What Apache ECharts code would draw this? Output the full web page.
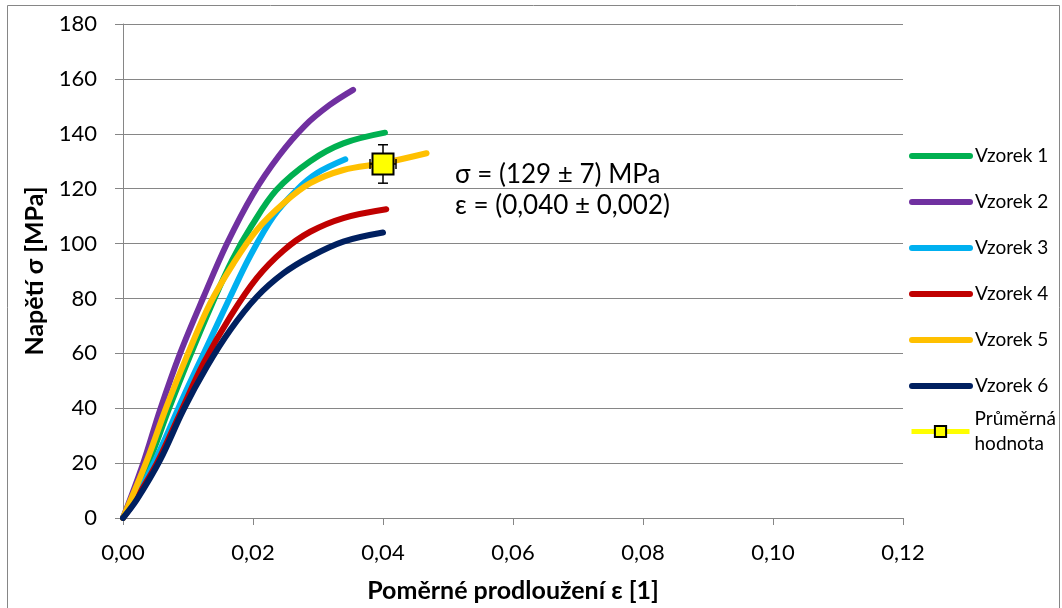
<!DOCTYPE html>
<html>
<head>
<meta charset="utf-8">
<script src="https://cdn.jsdelivr.net/npm/echarts@6/dist/echarts.min.js"></script>
<style>
  html, body { margin: 0; padding: 0; background: #fff; }
  #chart { width: 1062px; height: 608px; }
</style>
</head>
<body>
<div id="chart"></div>
<script>
// Vzorek 1..6: pomerne prodlouzeni (x) a napeti (y)
var v1x = [0, 0.0039, 0.0071, 0.0103, 0.0137, 0.0168, 0.0198, 0.0236, 0.0288, 0.0339, 0.0403];
var v1y = [0, 20, 40, 59, 78, 94, 106.5, 119.5, 130, 136.5, 140.4];
var v2x = [0, 0.0031, 0.0057, 0.0088, 0.0124, 0.0160, 0.0200, 0.0240, 0.0280, 0.0318, 0.0354];
var v2y = [0, 19.9, 39.4, 60.1, 80.6, 100, 118, 132, 143, 150.5, 156];
var v3x = [0, 0.0021, 0.0057, 0.0093, 0.0129, 0.0165, 0.0195, 0.0231, 0.0267, 0.0298, 0.0342];
var v3y = [0, 7.8, 24.8, 44.2, 62.4, 80.6, 95.2, 109.8, 119.5, 125.6, 130.7];
var v4x = [0, 0.0016, 0.0052, 0.0088, 0.0124, 0.0165, 0.0206, 0.0247, 0.0288, 0.0339, 0.0405];
var v4y = [0, 5.4, 19.9, 38.2, 56.4, 73.4, 87.5, 97.5, 104.3, 109.3, 112.5];
var v5x = [0, 0.0037, 0.0067, 0.0098, 0.0134, 0.0170, 0.0206, 0.0247, 0.0288, 0.0339, 0.0400, 0.0467];
var v5y = [0, 21.1, 40.6, 58.8, 78.2, 92.8, 105, 114.7, 122, 126.8, 129.3, 132.9];
var v6x = [0, 0.0021, 0.0057, 0.0093, 0.0129, 0.0165, 0.0206, 0.0247, 0.0288, 0.0339, 0.0400];
var v6y = [0, 6.6, 21.1, 39.4, 55.1, 68.5, 80.6, 89.2, 95.2, 100.7, 104];

// prumerna hodnota a smerodatne odchylky
var meanX = [0.040];
var meanY = [129];
var errX = [0.002];
var errY = [7];

var names = ['Vzorek 1', 'Vzorek 2', 'Vzorek 3', 'Vzorek 4', 'Vzorek 5', 'Vzorek 6'];
var colors = ['#00B050', '#7030A0', '#00B0F0', '#C00000', '#FFC000', '#002060'];
var xs = [v1x, v2x, v3x, v4x, v5x, v6x];
var ys = [v1y, v2y, v3y, v4y, v5y, v6y];
var meanName = 'Průměrná\nhodnota';

function pairs(a, b) {
  var out = [];
  for (var i = 0; i < a.length; i++) out.push([a[i], b[i]]);
  return out;
}

var series = [];
for (var i = 0; i < names.length; i++) {
  series.push({
    name: names[i],
    type: 'line',
    data: pairs(xs[i], ys[i]),
    smooth: 0.35,
    symbol: 'none',
    lineStyle: { color: colors[i], width: 6, cap: 'round', join: 'round' },
    itemStyle: { color: colors[i] },
    z: 2 + i
  });
}

// chybove useky
series.push({
  type: 'custom',
  z: 20,
  silent: true,
  data: meanX.map(function (x, k) { return [x, meanY[k], errX[k], errY[k]]; }),
  renderItem: function (params, api) {
    var x = api.value(0), y = api.value(1), ex = api.value(2), ey = api.value(3);
    var top = api.coord([x, y + ey]), bot = api.coord([x, y - ey]);
    var lft = api.coord([x - ex, y]), rgt = api.coord([x + ex, y]);
    var st = { stroke: '#000', lineWidth: 1.5 };
    var c = 5;
    return {
      type: 'group',
      children: [
        { type: 'line', shape: { x1: top[0], y1: top[1], x2: bot[0], y2: bot[1] }, style: st },
        { type: 'line', shape: { x1: top[0] - c, y1: top[1], x2: top[0] + c, y2: top[1] }, style: st },
        { type: 'line', shape: { x1: bot[0] - c, y1: bot[1], x2: bot[0] + c, y2: bot[1] }, style: st },
        { type: 'line', shape: { x1: lft[0], y1: lft[1], x2: rgt[0], y2: rgt[1] }, style: st },
        { type: 'line', shape: { x1: lft[0], y1: lft[1] - c, x2: lft[0], y2: lft[1] + c }, style: st },
        { type: 'line', shape: { x1: rgt[0], y1: rgt[1] - c, x2: rgt[0], y2: rgt[1] + c }, style: st }
      ]
    };
  }
});

series.push({
  name: meanName,
  type: 'line',
  data: pairs(meanX, meanY),
  symbol: 'rect',
  symbolSize: 21,
  showSymbol: true,
  z: 30,
  lineStyle: { color: '#FFFF00', width: 5 },
  itemStyle: { color: '#FFFF00', borderColor: '#000', borderWidth: 2 }
});

var font = 'Lato, "Open Sans", sans-serif';

var chart = echarts.init(document.getElementById('chart'));
chart.setOption({
  animation: false,
  textStyle: { fontFamily: font },
  grid: { left: 123, right: 159, top: 24, bottom: 90 },
  xAxis: {
    type: 'value',
    min: 0, max: 0.12, interval: 0.02,
    name: 'Poměrné prodloužení ε [1]',
    nameLocation: 'middle',
    nameGap: 60,
    nameTextStyle: { fontSize: 25, fontWeight: 'bold', color: '#000', fontFamily: font },
    axisLine: { show: true, lineStyle: { color: '#868686', width: 1 } },
    axisTick: { show: true, length: 7, lineStyle: { color: '#868686' } },
    axisLabel: {
      fontSize: 22, color: '#000', margin: 24, fontFamily: font,
      formatter: function (v) { return v.toFixed(2).replace('.', ','); }
    },
    splitLine: { show: false }
  },
  yAxis: {
    type: 'value',
    min: 0, max: 180, interval: 20,
    name: 'Napětí σ [MPa]',
    nameLocation: 'middle',
    nameGap: 75,
    nameTextStyle: { fontSize: 25, fontWeight: 'bold', color: '#000', fontFamily: font },
    axisLine: { show: true, lineStyle: { color: '#868686', width: 1 } },
    axisTick: { show: true, length: 8, lineStyle: { color: '#868686' } },
    axisLabel: { fontSize: 22, color: '#000', margin: 26, fontFamily: font },
    splitLine: { show: true, lineStyle: { color: '#868686', width: 1 } }
  },
  legend: [
    {
      orient: 'vertical',
      left: 909,
      top: 145,
      padding: 0,
      data: names,
      itemWidth: 58,
      itemHeight: 14,
      itemGap: 24,
      itemStyle: { opacity: 0 },
      lineStyle: { width: 6, cap: 'round' },
      textStyle: { fontSize: 19, color: '#000', fontFamily: font, lineHeight: 22 }
    },
    {
      orient: 'vertical',
      left: 909,
      top: 394,
      padding: 0,
      data: [meanName],
      itemWidth: 58,
      itemHeight: 14,
      lineStyle: { width: 5 },
      textStyle: { fontSize: 19, color: '#000', fontFamily: font, lineHeight: 25, padding: [25, 0, 0, 0] }
    }
  ],
  graphic: [
    {
      type: 'rect',
      shape: { x: 7.5, y: 5.5, width: 1052, height: 620 },
      style: { fill: 'none', stroke: '#868686', lineWidth: 1 },
      silent: true
    },
    {
      type: 'text',
      left: 455, top: 162,
      style: { text: 'σ = (129 ± 7) MPa', fontSize: 26, fill: '#000', fontFamily: font }
    },
    {
      type: 'text',
      left: 455, top: 193,
      style: { text: 'ε = (0,040 ± 0,002)', fontSize: 26, fill: '#000', fontFamily: font }
    }
  ],
  series: series
});
</script>
</body>
</html>
